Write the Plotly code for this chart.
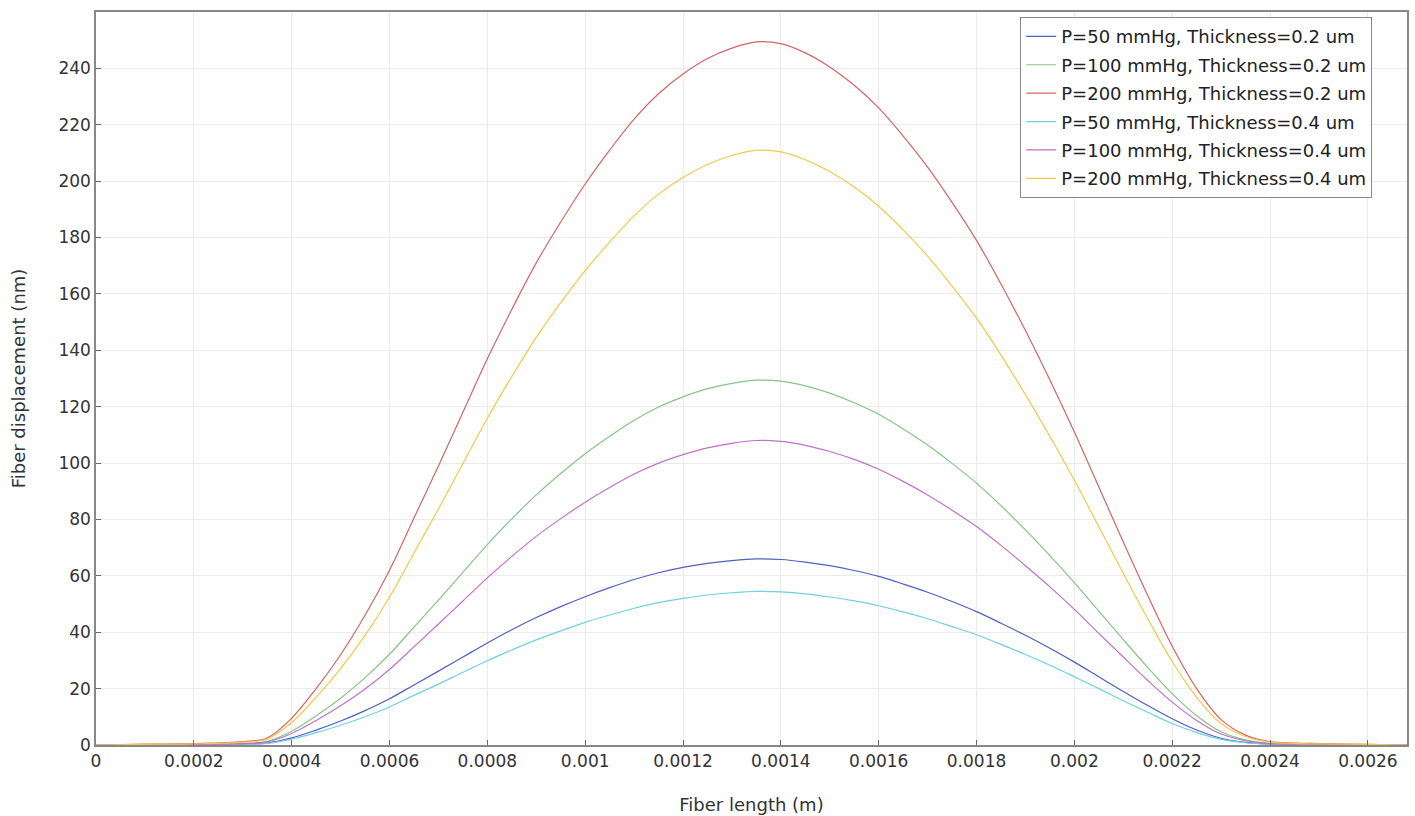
import plotly.graph_objects as go

x_m = [0, 0.0001, 0.0002,
       0.0003, 0.00035, 0.0004, 0.00045, 0.0005, 0.00055, 0.0006, 0.00065, 0.0007, 0.00075,
       0.0008, 0.00085, 0.0009, 0.00095, 0.001, 0.00105, 0.0011, 0.00115, 0.0012, 0.00125,
       0.0013, 0.00135, 0.0014, 0.00145, 0.0015, 0.00155, 0.0016, 0.00165, 0.0017, 0.00175,
       0.0018, 0.00185, 0.0019, 0.00195, 0.002, 0.00205, 0.0021, 0.00215, 0.0022, 0.00225,
       0.0023, 0.00235, 0.0024, 0.00245, 0.0025,
       0.0026, 0.00268]

p50_t02 = [0, 0.08, 0.13,
           0.3, 0.7, 2.5, 5.3, 8.5, 12.2, 16.4, 21.3, 26.2, 31.2,
           36.2, 40.9, 45.2, 49.1, 52.6, 55.8, 58.7, 61.1, 63.0, 64.4,
           65.4, 66.0, 65.8, 64.9, 63.6, 61.9, 59.8, 57.1, 54.2, 50.9,
           47.3, 43.2, 38.9, 34.3, 29.4, 24.2, 19.0, 14.0, 9.3, 5.3,
           2.4, 0.9, 0.3, 0.19, 0.13,
           0.05, 0]
p100_t02 = [0, 0.15, 0.26,
            0.6, 1.3, 4.9, 10.4, 16.6, 23.9, 32.2, 41.8, 51.4, 61.2,
            71.1, 80.2, 88.7, 96.3, 103.3, 109.5, 115.2, 119.9, 123.5, 126.4,
            128.3, 129.4, 129.1, 127.4, 124.8, 121.4, 117.3, 112.1, 106.4, 99.9,
            92.9, 84.9, 76.3, 67.2, 57.6, 47.5, 37.4, 27.5, 18.2, 10.4,
            4.7, 1.8, 0.6, 0.36, 0.26,
            0.1, 0]
p200_t02 = [0, 0.3, 0.5,
            1.2, 2.5, 9.5, 20, 32, 46, 62, 80.5, 99, 118,
            137, 154.5, 171, 185.5, 199, 211, 222, 231, 238, 243.5,
            247.2, 249.4, 248.8, 245.5, 240.5, 234, 226, 216, 205, 192.5,
            179, 163.5, 147, 129.5, 111, 91.5, 72, 53, 35, 20,
            9, 3.5, 1.2, 0.7, 0.5,
            0.2, 0]
p50_t04 = [0, 0.07, 0.11,
           0.26, 0.55, 2.1, 4.4, 7.0, 10.0, 13.5, 17.6, 21.6, 25.8,
           29.9, 33.7, 37.3, 40.5, 43.5, 46.1, 48.5, 50.5, 52.0, 53.2,
           54.0, 54.5, 54.3, 53.6, 52.5, 51.1, 49.4, 47.2, 44.8, 42.0,
           39.1, 35.7, 32.1, 28.3, 24.2, 20.0, 15.7, 11.6, 7.6, 4.4,
           2.0, 0.8, 0.26, 0.15, 0.11,
           0.04, 0]
p100_t04 = [0, 0.13, 0.22,
            0.5, 1.1, 4.1, 8.7, 13.9, 19.9, 26.8, 34.8, 42.9, 51.1,
            59.3, 66.9, 74.0, 80.3, 86.1, 91.3, 96.1, 100.0, 103.0, 105.4,
            107.0, 108.0, 107.7, 106.3, 104.1, 101.3, 97.8, 93.5, 88.7, 83.3,
            77.5, 70.8, 63.6, 56.1, 48.1, 39.6, 31.2, 22.9, 15.2, 8.7,
            3.9, 1.5, 0.5, 0.3, 0.22,
            0.1, 0]
p200_t04 = [0, 0.25, 0.4,
            1.0, 2.1, 8.0, 16.9, 27.1, 38.9, 52.4, 68.1, 83.7, 99.8,
            115.9, 130.7, 144.6, 156.9, 168.3, 178.4, 187.7, 195.4, 201.3, 205.9,
            209.1, 210.9, 210.4, 207.6, 203.4, 197.9, 191.1, 182.7, 173.4, 162.8,
            151.4, 138.3, 124.3, 109.5, 93.9, 77.4, 60.9, 44.8, 29.6, 16.9,
            7.6, 3.0, 1.0, 0.6, 0.4,
            0.2, 0]

series_names = ["P=50 mmHg, Thickness=0.2 um", "P=100 mmHg, Thickness=0.2 um",
                "P=200 mmHg, Thickness=0.2 um", "P=50 mmHg, Thickness=0.4 um",
                "P=100 mmHg, Thickness=0.4 um", "P=200 mmHg, Thickness=0.4 um"]
series_values = [p50_t02, p100_t02, p200_t02, p50_t04, p100_t04, p200_t04]
colors = ["#4f5fc4", "#86c486", "#d46464", "#6fd0e0", "#c070c8", "#f2c84c"]

x_ticks = [0, 0.0002, 0.0004, 0.0006, 0.0008, 0.001, 0.0012, 0.0014, 0.0016, 0.0018,
           0.002, 0.0022, 0.0024, 0.0026]
x_ticklabels = ["0", "0.0002", "0.0004", "0.0006", "0.0008", "0.001", "0.0012", "0.0014",
                "0.0016", "0.0018", "0.002", "0.0022", "0.0024", "0.0026"]
y_ticks = list(range(0, 241, 20))

fig = go.Figure()
for i, (name, vals, c) in enumerate(zip(series_names, series_values, colors)):
    fig.add_trace(go.Scatter(x=x_m, y=vals, mode="lines", name=name, legendgroup=f"g{i}",
                             line=dict(color=c, width=1.2, shape="spline", smoothing=1.0)))

font_family = "DejaVu Sans"
fig.update_layout(
    width=1415, height=816,
    margin=dict(l=96, r=8, t=12, b=71),
    paper_bgcolor="white", plot_bgcolor="white",
    font=dict(family=font_family, size=17, color="#333333"),
    showlegend=True,
    legend=dict(x=0.9735, y=0.993, xanchor="right", yanchor="top",
                bgcolor="white", bordercolor="#888888", borderwidth=1,
                font=dict(family=font_family, size=18, color="#222222"),
                itemwidth=30, tracegroupgap=2),
    xaxis=dict(range=[0, 0.00268], tickvals=x_ticks, ticktext=x_ticklabels,
               showgrid=True, gridcolor="#ebebeb", gridwidth=1,
               showline=True, linecolor="#888888", linewidth=1.5, mirror=True,
               ticks="inside", ticklen=5, tickcolor="#666666", automargin=False,
               zeroline=False, tickfont=dict(size=17, color="#333333"),
               title=dict(text="Fiber length (m)", font=dict(size=18, color="#333333"), standoff=28)),
    yaxis=dict(range=[0, 260], tickvals=y_ticks,
               showgrid=True, gridcolor="#ebebeb", gridwidth=1,
               showline=True, linecolor="#888888", linewidth=1.5, mirror=True,
               ticks="inside", ticklen=5, tickcolor="#666666", automargin=False,
               zeroline=False, tickfont=dict(size=17, color="#333333"),
               title=dict(text="Fiber displacement (nm)", font=dict(size=18, color="#333333"), standoff=28)),
)

fig.write_html("out.html")
